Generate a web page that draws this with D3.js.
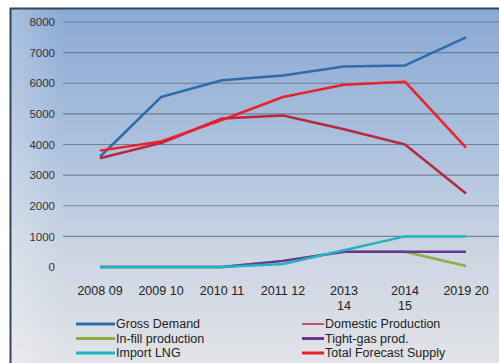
<!DOCTYPE html>
<html>
<head>
<meta charset="utf-8">
<script src="https://cdn.jsdelivr.net/npm/d3@7"></script>
<style>
  body { margin: 0; background: #fff; }
  text { font-family: "Liberation Sans", Arial, sans-serif; fill: #222; }
</style>
</head>
<body>
<svg width="499" height="363"></svg>
<script>
// categories (fiscal years)
var years = ["2008 09", "2009 10", "2010 11", "2011 12", "2013 14", "2014 15", "2019 20"];

// series values
var grossDemand   = [3600, 5550, 6100, 6250, 6550, 6580, 7500];
var domesticProd  = [3550, 4050, 4850, 4950, 4500, 4000, 2400];
var inFillProd    = [0, 0, 0, 200, 500, 500, 30];
var tightGasProd  = [0, 0, 0, 200, 500, 500, 500];
var importLNG     = [0, 0, 0, 100, 550, 1000, 1000];
var totalForecast = [3800, 4100, 4800, 5550, 5950, 6050, 3900];

var yTicks = [0, 1000, 2000, 3000, 4000, 5000, 6000, 7000, 8000];

var series = [
  { name: "Gross Demand", values: grossDemand, colour: "#2f6cab" },
  { name: "Domestic Production", values: domesticProd, colour: "#b8283f" },
  { name: "In-fill production", values: inFillProd, colour: "#8fad45" },
  { name: "Tight-gas prod.", values: tightGasProd, colour: "#6a3696" },
  { name: "Import LNG", values: importLNG, colour: "#1fb3c6" },
  { name: "Total Forecast Supply", values: totalForecast, colour: "#ec2228" }
];

var svg = d3.select("svg");

// background gradient
var defs = svg.append("defs");
var grad = defs.append("linearGradient").attr("id", "bg")
  .attr("x1", 0).attr("y1", 0).attr("x2", 0).attr("y2", 1);
grad.append("stop").attr("offset", "0%").attr("stop-color", "#8aa9d4");
grad.append("stop").attr("offset", "40%").attr("stop-color", "#adc2de");
grad.append("stop").attr("offset", "70%").attr("stop-color", "#cdd6e2");
grad.append("stop").attr("offset", "100%").attr("stop-color", "#e1e3e7");

var side = defs.append("linearGradient").attr("id", "side")
  .attr("x1", 0).attr("y1", 0).attr("x2", 1).attr("y2", 0);
side.append("stop").attr("offset", "0%").attr("stop-color", "#ffffff").attr("stop-opacity", 0.25);
side.append("stop").attr("offset", "100%").attr("stop-color", "#ffffff").attr("stop-opacity", 0);

svg.append("rect").attr("x", 10).attr("y", 8).attr("width", 489).attr("height", 355)
  .attr("fill", "url(#bg)");
svg.append("rect").attr("x", 11).attr("y", 9).attr("width", 52).attr("height", 354)
  .attr("fill", "url(#side)");
// frame
svg.append("path").attr("d", "M10.5,363 V8.5 H499")
  .attr("fill", "none").attr("stroke", "#34455e").attr("stroke-width", 2);

var x = d3.scalePoint().domain(years).range([100, 466]);
var y = d3.scaleLinear().domain([0, 8000]).range([267, 22]);

// y axis with gridlines
var yAxis = svg.append("g")
  .attr("transform", "translate(63,0)")
  .call(d3.axisLeft(y).tickValues(yTicks).tickFormat(d3.format("d")).tickSize(0).tickPadding(8));
yAxis.select(".domain").remove();
yAxis.selectAll("text").attr("font-size", "11.5px").style("fill", "#333");

svg.append("g").selectAll("line")
  .data(yTicks.filter(function(d) { return d > 0; }))
  .enter().append("line")
  .attr("x1", 63).attr("x2", 499)
  .attr("y1", function(d) { return y(d); })
  .attr("y2", function(d) { return y(d); })
  .attr("stroke", "#5d6a7a").attr("stroke-opacity", 0.75).attr("stroke-width", 1.2);

// x axis labels (wrapped like the original)
var xLab = svg.append("g").selectAll("text")
  .data(years)
  .enter().append("text")
  .attr("x", function(d) { return x(d); })
  .attr("y", 295)
  .attr("text-anchor", "middle")
  .attr("font-size", "12.5px");
xLab.each(function(d) {
  var t = d3.select(this);
  var parts = (d === "2013 14" || d === "2014 15") ? d.split(" ") : [d];
  parts.forEach(function(p, i) {
    t.append("tspan").attr("x", x(d)).attr("dy", i === 0 ? 0 : 15).text(p);
  });
});

// lines, drawn in series order (later ones on top)
var line = d3.line()
  .x(function(d, i) { return x(years[i]); })
  .y(function(d) { return y(d); });

svg.append("g").selectAll("path")
  .data(series)
  .enter().append("path")
  .attr("d", function(d) { return line(d.values); })
  .attr("fill", "none")
  .attr("stroke", function(d) { return d.colour; })
  .attr("stroke-width", 2.5)
  .attr("stroke-linejoin", "round");

// legend: two columns, three rows
var legend = svg.append("g").selectAll("g")
  .data(series)
  .enter().append("g")
  .attr("transform", function(d, i) {
    var col = i % 2, row = Math.floor(i / 2);
    return "translate(" + (col === 0 ? 76 : 302) + "," + (324 + row * 14.5) + ")";
  });
legend.append("line")
  .attr("x1", 0).attr("x2", function(d, i) { return i % 2 === 0 ? 39 : 22; })
  .attr("y1", 0).attr("y2", 0)
  .attr("stroke", function(d) { return d.colour; })
  .attr("stroke-width", function(d, i) { return i === 1 ? 1.5 : 3; });
legend.append("text")
  .attr("x", function(d, i) { return i % 2 === 0 ? 40 : 23; })
  .attr("dy", "0.35em")
  .attr("font-size", "12.5px")
  .text(function(d) { return d.name; });
</script>
</body>
</html>
